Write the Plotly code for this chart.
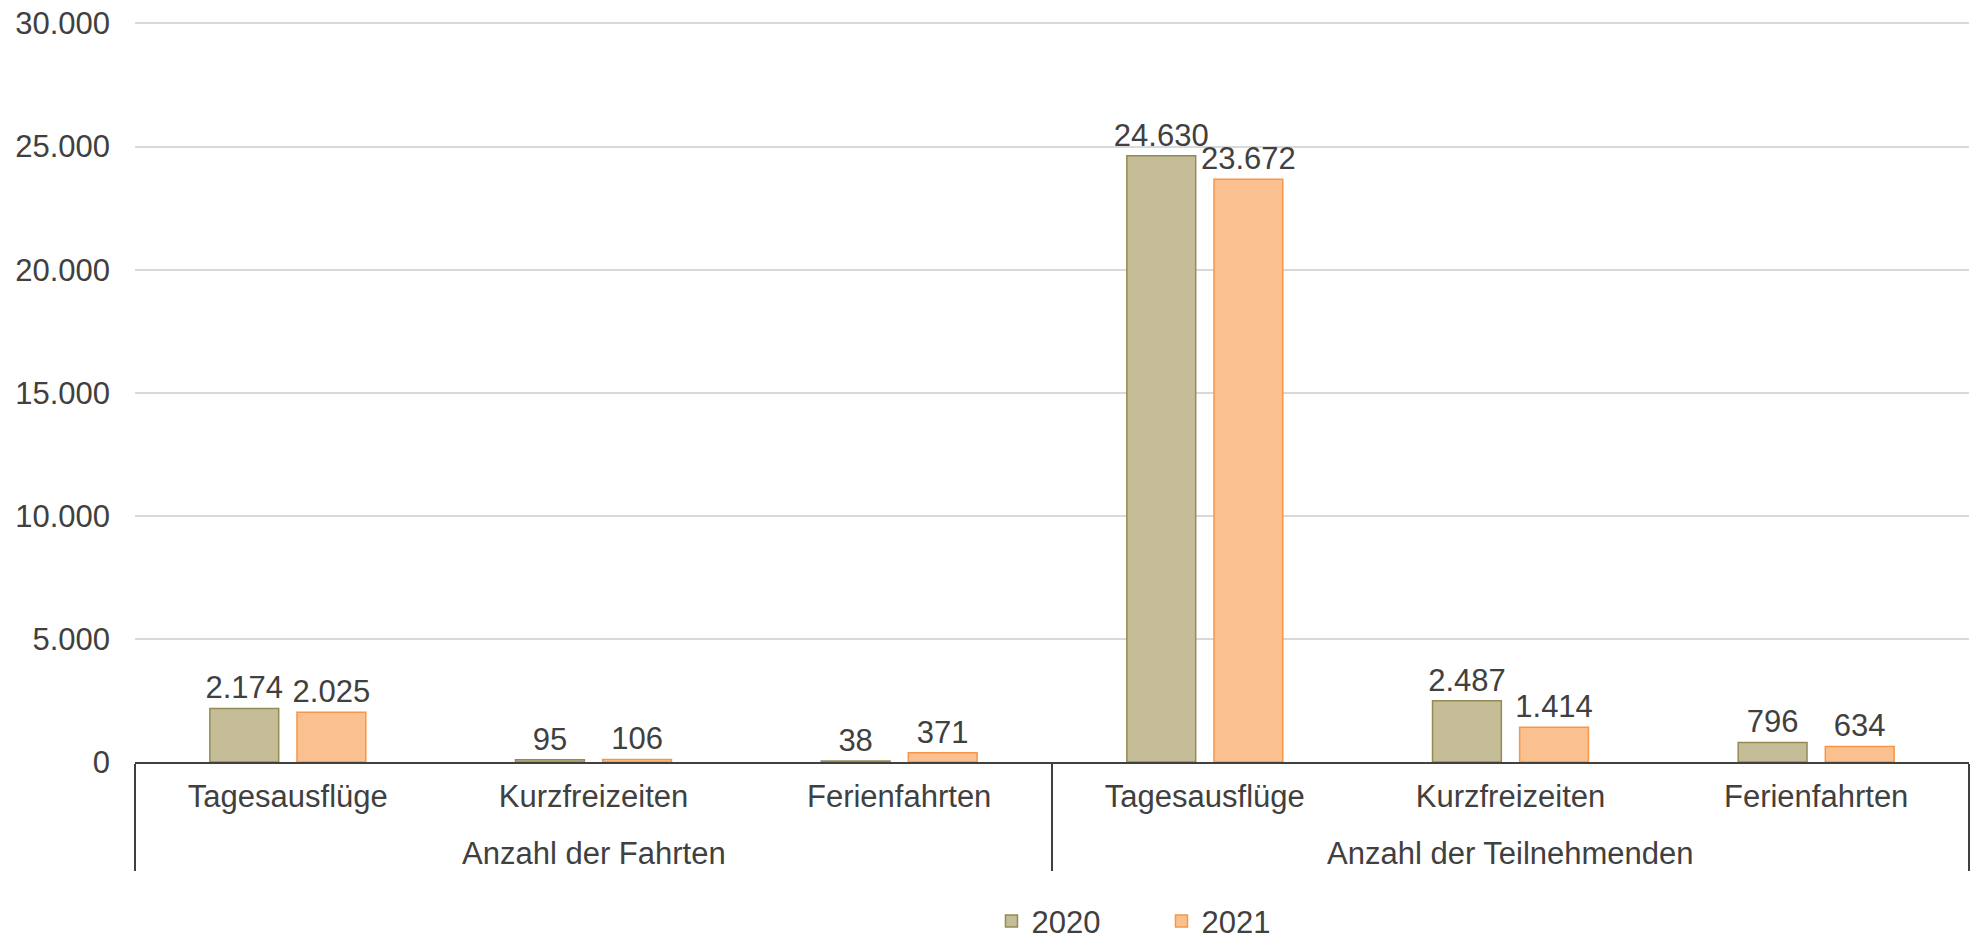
import plotly.graph_objects as go

# data
group_names = ["Anzahl der Fahrten", "Anzahl der Teilnehmenden"]
groups = ["Anzahl der Fahrten"] * 3 + ["Anzahl der Teilnehmenden"] * 3
categories = ["Tagesausflüge", "Kurzfreizeiten", "Ferienfahrten"] * 2
values_2020 = [2174, 95, 38, 24630, 2487, 796]
values_2021 = [2025, 106, 371, 23672, 1414, 634]
y_ticks = [0, 5000, 10000, 15000, 20000, 25000, 30000]

TEXT = "#404040"
LINE = "#404040"
FONT = "Liberation Sans, Arial, sans-serif"
FS = 31

positions = list(range(len(categories)))
# centre of each group and the boundaries between groups
group_centers = []
boundaries = [-0.5]
for g in group_names:
    idx = [i for i, name in enumerate(groups) if name == g]
    group_centers.append(sum(idx) / len(idx))
    boundaries.append(max(idx) + 0.5)

fig = go.Figure()
fig.add_trace(go.Bar(
    x=positions, y=values_2020, name="2020",
    marker=dict(color="#C4BD97", line=dict(color="#948A54", width=1.5)),
    texttemplate="%{y:,}", textposition="outside", cliponaxis=False,
    constraintext="none", textfont=dict(size=FS, color=TEXT),
))
fig.add_trace(go.Bar(
    x=positions, y=values_2021, name="2021",
    marker=dict(color="#FAC090", line=dict(color="#F79646", width=1.5)),
    texttemplate="%{y:,}", textposition="outside", cliponaxis=False,
    constraintext="none", textfont=dict(size=FS, color=TEXT),
))

# second level of the category axis
for name, cx in zip(group_names, group_centers):
    fig.add_annotation(
        x=cx, xref="x", y=-0.123, yref="paper", yanchor="middle",
        text=name, showarrow=False, font=dict(size=FS, color=TEXT),
    )

x_range = [-0.5, len(categories) - 0.5]

fig.update_layout(
    width=1975, height=942,
    paper_bgcolor="white", plot_bgcolor="white",
    font=dict(family=FONT, size=FS, color=TEXT),
    separators=",.",
    barmode="group", bargap=0.43, bargroupgap=0.21,
    margin=dict(l=135, r=6, t=22, b=180, autoexpand=False),
    showlegend=True,
    legend=dict(orientation="h", x=0.467, xanchor="left", y=0.022, yanchor="middle",
                yref="container", entrywidth=125, font=dict(size=FS, color=TEXT)),
    xaxis=dict(
        range=x_range, tickvals=positions, ticktext=categories,
        showline=True, linecolor=LINE, linewidth=1.5, showgrid=False,
        zeroline=False, ticks="", ticklabelstandoff=6,
        tickfont=dict(size=FS, color=TEXT),
        # group dividers
        minor=dict(tickmode="array", tickvals=boundaries, ticks="outside",
                   ticklen=107, tickwidth=1.5, tickcolor=LINE, showgrid=False),
    ),
    yaxis=dict(
        range=[0, 30060], tickvals=y_ticks, tickformat=",d",
        showgrid=True, gridcolor="#D9D9D9", gridwidth=1.5, zeroline=False,
        showline=False, ticks="", ticklabelstandoff=24,
        tickfont=dict(size=FS, color=TEXT),
    ),
)

fig.write_html("out.html", config={"displayModeBar": False},
               post_script="document.body.style.margin='0';")
